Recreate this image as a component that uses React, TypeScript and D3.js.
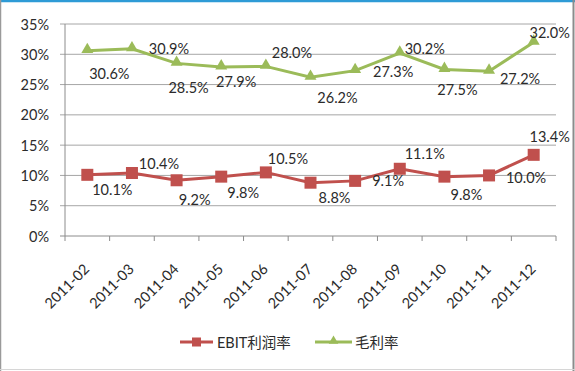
import React from 'react';
import * as d3 from 'd3';

const months = ['2011-02', '2011-03', '2011-04', '2011-05', '2011-06', '2011-07', '2011-08', '2011-09', '2011-10', '2011-11', '2011-12'];
const ebitMargin = [10.1, 10.4, 9.2, 9.8, 10.5, 8.8, 9.1, 11.1, 9.8, 10.0, 13.4];
const grossMargin = [30.6, 30.9, 28.5, 27.9, 28.0, 26.2, 27.3, 30.2, 27.5, 27.2, 32.0];
const yTicks = [0, 5, 10, 15, 20, 25, 30, 35];
const seriesNames = ['EBIT利润率', '毛利率'];

// hand placed data labels, offsets from the marker (label centre)
const ebitLabelOffset = [[25, 15], [27, -10], [18, 19], [22, 16], [22, -14], [24, 15], [33, 0], [25, -15], [22, 18], [37, 2], [16, -18]];
const grossLabelOffset = [[22, 23], [37, 0], [12, 24], [15, 14], [26, -14], [27, 20], [38, 1], [25, -5], [13, 20], [31, 7], [16, -10]];

const W = 575;
const H = 371;
const margin = {left: 65, right: 19, top: 24, bottom: 135};

const RED = '#C0504D';
const GREEN = '#9BBB59';
const TEXT = '#2b2b2b';
const FONT = "Lato, 'Noto Sans CJK SC', sans-serif";

export default function App() {
    const x = d3.scaleBand<string>()
        .domain(months)
        .range([margin.left, W - margin.right]);

    const y = d3.scaleLinear()
        .domain([0, 35])
        .range([H - margin.bottom, margin.top]);

    const cx = (m: string) => (x(m) as number) + x.bandwidth() / 2;

    const line = d3.line<number>()
        .x((d, i) => cx(months[i]))
        .y(d => y(d));

    const tri = d3.symbol().type(d3.symbolTriangle).size(62)();
    const triSmall = d3.symbol().type(d3.symbolTriangle).size(40)();

    const x0 = margin.left;
    const x1 = W - margin.right;
    const yBase = y(0);

    return (
        <svg width={W} height={H} viewBox={`0 0 ${W} ${H}`}
             style={{position: 'fixed', left: 0, top: 0, display: 'block', background: '#fff'}}
             fontFamily={FONT}>

            {/* frame */}
            <rect x={0} y={0} width={W} height={H} fill="#fff" />
            <line x1={0} x2={W} y1={1} y2={1} stroke="#2E9BD6" strokeWidth={2.5} />
            <line x1={0.5} x2={0.5} y1={0} y2={H} stroke="#9a9a9a" strokeWidth={1.5} />
            <line x1={573.5} x2={573.5} y1={0} y2={H} stroke="#8c8c8c" strokeWidth={2} />
            <line x1={0} x2={W} y1={369.5} y2={369.5} stroke="#d6d6d6" strokeWidth={1} />

            {/* grid + y axis */}
            {yTicks.map(t => (
                <g key={t}>
                    <line x1={x0 - 5} x2={x1} y1={y(t)} y2={y(t)}
                          stroke={t === 0 ? '#8c8c8c' : '#a6a6a6'} strokeWidth={1} />
                    <text x={49} y={y(t)} textAnchor="end" dominantBaseline="central"
                          fontSize={14.5} fill={TEXT}>{t}%</text>
                </g>
            ))}
            <line x1={x0} x2={x0} y1={y(35)} y2={yBase} stroke="#8c8c8c" strokeWidth={1} />

            {/* x ticks and labels */}
            {months.concat(['end']).map((m, i) => {
                const xx = i < months.length ? (x(m) as number) : x1;
                return <line key={'t' + i} x1={xx} x2={xx} y1={yBase} y2={yBase + 5} stroke="#8c8c8c" />;
            })}
            {months.map(m => (
                <text key={m} textAnchor="end" fontSize={14.5} fill={TEXT}
                      transform={`translate(${cx(m) + 3}, ${yBase + 34}) rotate(-45)`}>{m}</text>
            ))}

            {/* series */}
            <path d={line(grossMargin) as string} fill="none" stroke={GREEN} strokeWidth={3} />
            {grossMargin.map((v, i) => (
                <path key={'g' + i} d={tri as string} fill={GREEN}
                      transform={`translate(${cx(months[i])}, ${y(v) - 1})`} />
            ))}
            <path d={line(ebitMargin) as string} fill="none" stroke={RED} strokeWidth={3} />
            {ebitMargin.map((v, i) => (
                <rect key={'r' + i} x={cx(months[i]) - 6} y={y(v) - 6} width={12} height={12} fill={RED} />
            ))}

            {/* data labels */}
            {grossMargin.map((v, i) => (
                <text key={'gl' + i} x={cx(months[i]) + grossLabelOffset[i][0]} y={y(v) + grossLabelOffset[i][1]}
                      textAnchor="middle" dominantBaseline="central" fontSize={14.5} fill={TEXT}>
                    {v.toFixed(1)}%
                </text>
            ))}
            {ebitMargin.map((v, i) => (
                <text key={'rl' + i} x={cx(months[i]) + ebitLabelOffset[i][0]} y={y(v) + ebitLabelOffset[i][1]}
                      textAnchor="middle" dominantBaseline="central" fontSize={14.5} fill={TEXT}>
                    {v.toFixed(1)}%
                </text>
            ))}

            {/* legend */}
            <g transform="translate(180, 342)">
                <line x1={0} x2={33} y1={0} y2={0} stroke={RED} strokeWidth={3} />
                <rect x={12} y={-4.5} width={9} height={9} fill={RED} />
                <text x={37} y={0} dominantBaseline="central" fontSize={14.5} fill={TEXT}>{seriesNames[0]}</text>
            </g>
            <g transform="translate(315, 342)">
                <line x1={0} x2={37} y1={0} y2={0} stroke={GREEN} strokeWidth={3} />
                <path d={triSmall as string} fill={GREEN} transform="translate(18.5, -1)" />
                <text x={40} y={0} dominantBaseline="central" fontSize={14.5} fill={TEXT}>{seriesNames[1]}</text>
            </g>
        </svg>
    );
}
